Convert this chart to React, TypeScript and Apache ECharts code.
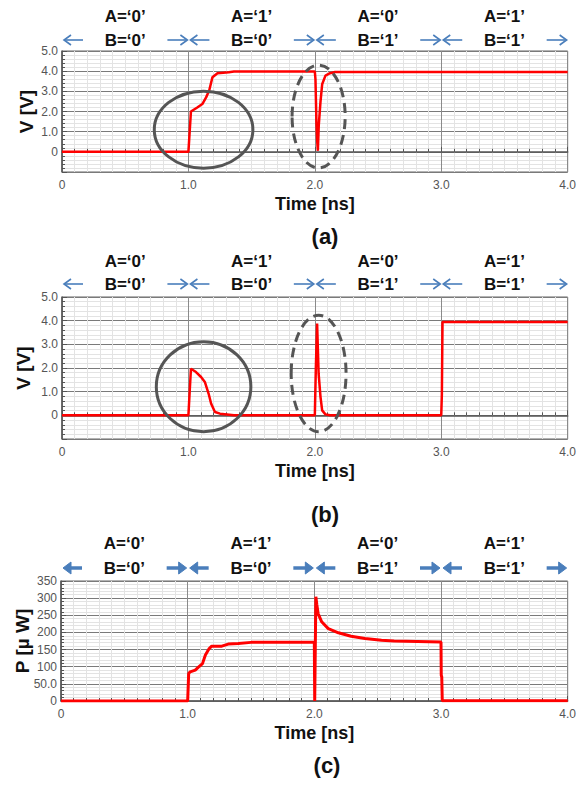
import React, { useEffect, useRef } from 'react';
import * as echarts from 'echarts';

// ---- data ----
const segStart = [0, 1, 2, 3];
const segEnd = [1, 2, 3, 4];
const labelA = ['A=‘0’', 'A=‘1’', 'A=‘0’', 'A=‘1’'];
const labelB = ['B=‘0’', 'B=‘0’', 'B=‘1’', 'B=‘1’'];
const panelTags = ['(a)', '(b)', '(c)'];

// panel (a) voltage
const tA = [0, 1.0, 1.01, 1.02, 1.07, 1.11, 1.14, 1.165, 1.19, 1.23, 1.32, 1.36, 2.0, 2.005, 2.013, 2.018, 2.024, 2.031, 2.045, 2.058, 2.084, 2.12, 2.16, 4.0];
const vA = [0, 0, 1.0, 2.0, 2.2, 2.37, 2.7, 3.05, 3.7, 3.9, 3.95, 3.98, 3.98, 3.6, 1.4, 0.6, 0.05, 1.3, 2.5, 3.35, 3.78, 3.9, 3.96, 3.96];

// panel (b) voltage
const tB = [0, 1.0, 1.01, 1.02, 1.06, 1.1, 1.13, 1.16, 1.18, 1.21, 1.25, 1.36, 2.0, 2.008, 2.018, 2.03, 2.045, 2.058, 2.084, 2.12, 3.0, 3.005, 3.01, 4.0];
const vB = [0, 0, 1.0, 1.97, 1.83, 1.62, 1.41, 0.91, 0.49, 0.14, 0.07, 0.0, 0.0, 2.0, 3.88, 1.76, 0.77, 0.21, 0.04, 0.0, 0.0, 0.9, 3.94, 3.94];

// panel (c) power
const tC = [0, 1.0, 1.008, 1.02, 1.06, 1.085, 1.117, 1.14, 1.17, 1.19, 1.27, 1.32, 1.4, 1.5, 2.0, 2.003, 2.008, 2.012, 2.02, 2.03, 2.058, 2.11, 2.19, 2.29, 2.4, 2.53, 2.63, 3.0, 3.002, 3.006, 3.01, 4.0];
const pC = [0, 0, 80, 85, 90, 99, 109, 134, 153, 160, 160, 166, 168, 171, 171, 0, 0, 304, 280, 255, 231, 211, 199, 189, 182, 177, 175, 172, 75, 70, 1, 1];

// annotation ellipses: [centerTime, centerValue, radiusTime, radiusValue, dashed]
const ellipsesA = [[1.12, 1.1, 0.39, 1.91, 0], [2.03, 1.75, 0.21, 2.55, 1]];
const ellipsesB = [[1.12, 1.21, 0.374, 1.9, 0], [2.03, 1.77, 0.217, 2.46, 1]];

const yMinV = -1, yMaxV = 5, yIntV = 1;
const yMinP = 0, yMaxP = 350, yIntP = 50;

const FONT = 'Liberation Sans, Arial, sans-serif';
const RED = '#ff0000';
const BLUE = '#4a7ebb';

const grids = [
  { left: 62, top: 51, width: 508, height: 121 },
  { left: 62, top: 297, width: 508, height: 142 },
  { left: 61, top: 581, width: 510, height: 120 },
];

function zip(t: number[], v: number[]) {
  return t.map((x, i) => [x, v[i]]);
}

function makeXAxis(i: number) {
  return {
    type: 'value',
    gridIndex: i,
    min: 0,
    max: 4,
    interval: 1,
    name: 'Time [ns]',
    nameLocation: 'middle',
    nameGap: 23,
    nameMoveOverlap: false,
    nameTextStyle: { fontSize: 18, fontWeight: 'bold', color: '#111', fontFamily: FONT },
    axisLine: { show: true, lineStyle: { color: '#555', width: 1.5 } },
    axisTick: { show: true, inside: true, length: 5, lineStyle: { color: '#555' } },
    minorTick: { show: true, splitNumber: 10, length: 3, lineStyle: { color: '#555' } },
    splitLine: { show: true, lineStyle: { color: '#8a8a8a', width: 1 } },
    minorSplitLine: { show: true, lineStyle: { color: '#e3e3e3', width: 1 } },
    axisLabel: {
      fontSize: 12, color: '#555', fontFamily: FONT, margin: 7,
      formatter: (v: number) => (v === 0 ? '0' : v.toFixed(1)),
    },
  };
}

function makeYAxis(i: number, name: string, min: number, max: number, interval: number, gap: number, fmt: (v: number) => string) {
  return {
    type: 'value',
    gridIndex: i,
    min, max, interval,
    name,
    nameLocation: 'middle',
    nameRotate: 90,
    nameGap: gap,
    nameMoveOverlap: false,
    nameTextStyle: { fontSize: 19, fontWeight: 'bold', color: '#111', fontFamily: FONT },
    axisLine: { show: true, lineStyle: { color: '#555', width: 1.5 } },
    axisTick: { show: true, inside: true, length: 5, lineStyle: { color: '#555' } },
    minorTick: { show: true, splitNumber: 5, length: 3, lineStyle: { color: '#555' } },
    splitLine: { show: true, lineStyle: { color: '#7a7a7a', width: 1.2 } },
    minorSplitLine: { show: true, lineStyle: { color: '#e3e3e3', width: 1 } },
    axisLabel: { fontSize: 12, color: '#555', fontFamily: FONT, margin: 4, formatter: fmt },
  };
}

const fmtV = (v: number) => (v < 0 ? '' : v === 0 ? '0' : v.toFixed(1));
const fmtP = (v: number) => (v === 50 ? '50.0' : String(v));

function headerSeries(i: number, yTop: number, offA: number, offB: number, thick: boolean) {
  return {
    type: 'custom',
    xAxisIndex: i,
    yAxisIndex: i,
    clip: false,
    silent: true,
    z: 10,
    encode: { x: [0, 1], y: 2 },
    data: segStart.map((s, k) => [s, segEnd[k], yTop]),
    renderItem: (params: any, api: any) => {
      const k = params.dataIndex;
      const p0 = api.coord([api.value(0), api.value(2)]);
      const p1 = api.coord([api.value(1), api.value(2)]);
      const mid = (p0[0] + p1[0]) / 2;
      const top = p0[1];
      const yA = top + offA;
      const yB = top + offB;
      const lw = thick ? 3.5 : 1.6;
      const hs = thick ? 6 : 5;
      const s = p0[0];
      const e = p1[0];
      const textStyle = (txt: string) => ({
        text: txt, fontSize: 17, fontWeight: 'bold', fontFamily: FONT, fill: '#111',
        align: 'center', verticalAlign: 'middle', textAlign: 'center', textVerticalAlign: 'middle',
      });
      const arrowStyle = { stroke: BLUE, lineWidth: lw, fill: 'none' };
      const headStyle = thick ? { fill: BLUE, stroke: BLUE, lineWidth: 1 } : arrowStyle;
      const headType = thick ? 'polygon' : 'polyline';
      const ls = s + 2, le = s + 21;
      const rs = e - 21, re = e - 1;
      return {
        type: 'group',
        children: [
          { type: 'text', x: mid, y: yA, style: textStyle(labelA[k]) },
          { type: 'text', x: mid, y: yB, style: textStyle(labelB[k]) },
          { type: 'polyline', shape: { points: [[ls + (thick ? 6 : 1), yB], [le, yB]] }, style: arrowStyle },
          { type: headType, shape: { points: [[ls + hs + 2, yB - hs], [ls, yB], [ls + hs + 2, yB + hs]] }, style: headStyle },
          { type: 'polyline', shape: { points: [[rs, yB], [re - (thick ? 6 : 1), yB]] }, style: arrowStyle },
          { type: headType, shape: { points: [[re - hs - 2, yB - hs], [re, yB], [re - hs - 2, yB + hs]] }, style: headStyle },
        ],
      };
    },
  };
}

function ellipseSeries(i: number, data: number[][]) {
  return {
    type: 'custom',
    xAxisIndex: i,
    yAxisIndex: i,
    clip: false,
    silent: true,
    z: 9,
    encode: { x: 0, y: 1 },
    data,
    renderItem: (params: any, api: any) => {
      const c = api.coord([api.value(0), api.value(1)]);
      const sz = api.size([api.value(2), api.value(3)]);
      const dashed = api.value(4) === 1;
      return {
        type: 'ellipse',
        shape: { cx: c[0], cy: c[1], rx: sz[0], ry: sz[1] },
        style: { fill: 'none', stroke: '#555', lineWidth: 3, lineDash: dashed ? [10, 6] : null },
      };
    },
  };
}

function lineSeries(i: number, data: number[][], width: number) {
  return {
    type: 'line',
    xAxisIndex: i,
    yAxisIndex: i,
    data,
    showSymbol: false,
    symbol: 'none',
    z: 5,
    lineStyle: { color: RED, width },
  };
}

function tagText(txt: string, x: number, y: number) {
  return {
    type: 'text', x, y,
    style: { text: txt, fontSize: 22, fontWeight: 'bold', fontFamily: FONT, fill: '#111', align: 'center', verticalAlign: 'middle', textAlign: 'center', textVerticalAlign: 'middle' },
  };
}

export default function App() {
  const ref = useRef<HTMLDivElement>(null);
  useEffect(() => {
    if (!ref.current) return;
    const chart = echarts.init(ref.current, null, { renderer: 'svg' });
    const option: any = {
      animation: false,
      backgroundColor: '#ffffff',
      grid: grids.map((g) => ({ ...g, show: true, borderColor: '#666', borderWidth: 1, backgroundColor: 'transparent' })),
      xAxis: [0, 1, 2].map((i) => makeXAxis(i)),
      yAxis: [
        makeYAxis(0, 'V [V]', yMinV, yMaxV, yIntV, 26, fmtV),
        makeYAxis(1, 'V [V]', yMinV, yMaxV, yIntV, 29, fmtV),
        makeYAxis(2, 'P [µ W]', yMinP, yMaxP, yIntP, 29, fmtP),
      ],
      series: [
        lineSeries(0, zip(tA, vA), 2.5),
        lineSeries(1, zip(tB, vB), 2.5),
        lineSeries(2, zip(tC, pC), 3),
        ellipseSeries(0, ellipsesA),
        ellipseSeries(1, ellipsesB),
        headerSeries(0, yMaxV, -35, -11, false),
        headerSeries(1, yMaxV, -36, -13, false),
        headerSeries(2, yMaxP, -38, -13, true),
      ],
      graphic: [
        tagText(panelTags[0], 325, 236),
        tagText(panelTags[1], 325, 514),
        tagText(panelTags[2], 327, 765),
      ],
    };
    chart.setOption(option);
    return () => chart.dispose();
  }, []);
  return <div ref={ref} style={{ position: 'absolute', left: 0, top: 0, width: 579, height: 785 }} />;
}
